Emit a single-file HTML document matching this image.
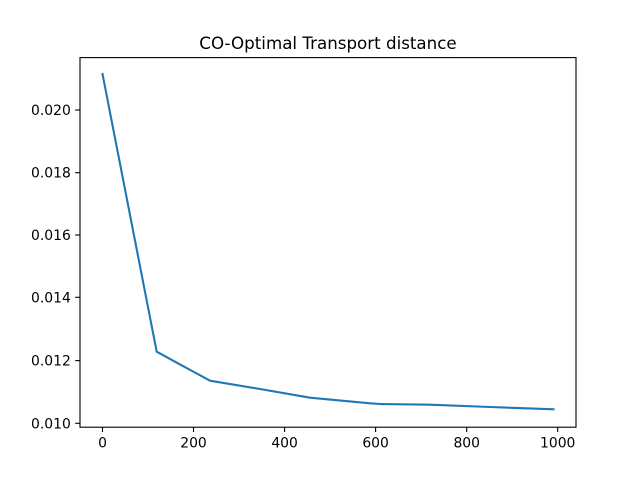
<!DOCTYPE html>
<html><head><meta charset="utf-8"><style>
html,body{margin:0;padding:0;background:#fff;}
svg{display:block;}
text{font-family:"DejaVu Sans","Liberation Sans",sans-serif;fill:#000;}
</style></head><body>
<svg width="640" height="480" viewBox="0 0 640 480" xmlns="http://www.w3.org/2000/svg">
<rect width="640" height="480" fill="#fff"/>
<polyline fill="none" stroke="#1f77b4" stroke-width="2.1" stroke-linejoin="round" stroke-linecap="square"
 points="102.5,74 156.7,351.7 180,364.4 194,372 210,380.7 260,389 310,397.7 370,403.3 380,404 430,404.7 490,407 553.5,409.3"/>
<rect x="80" y="57.6" width="496" height="369.6" fill="none" stroke="#000" stroke-width="1.1"/>
<g stroke="#000" stroke-width="1.1">
<line x1="102.5" y1="427.2" x2="102.5" y2="432"/>
<line x1="193.5" y1="427.2" x2="193.5" y2="432"/>
<line x1="284.6" y1="427.2" x2="284.6" y2="432"/>
<line x1="375.6" y1="427.2" x2="375.6" y2="432"/>
<line x1="466.7" y1="427.2" x2="466.7" y2="432"/>
<line x1="557.7" y1="427.2" x2="557.7" y2="432"/>
<line x1="75.2" y1="423.3" x2="80" y2="423.3"/>
<line x1="75.2" y1="360.6" x2="80" y2="360.6"/>
<line x1="75.2" y1="297.3" x2="80" y2="297.3"/>
<line x1="75.2" y1="235" x2="80" y2="235"/>
<line x1="75.2" y1="172.7" x2="80" y2="172.7"/>
<line x1="75.2" y1="110" x2="80" y2="110"/>
</g>
<g font-size="13.9" text-anchor="middle">
<text x="102.5" y="447.7">0</text>
<text x="193.5" y="447.7">200</text>
<text x="284.6" y="447.7">400</text>
<text x="375.6" y="447.7">600</text>
<text x="466.7" y="447.7">800</text>
<text x="557.7" y="447.7">1000</text>
</g>
<g font-size="13.9" text-anchor="end">
<text x="70.8" y="428.3">0.010</text>
<text x="70.8" y="365.6">0.012</text>
<text x="70.8" y="302.3">0.014</text>
<text x="70.8" y="240">0.016</text>
<text x="70.8" y="177.7">0.018</text>
<text x="70.8" y="115">0.020</text>
</g>
<text x="328" y="49" font-size="16.7" text-anchor="middle">CO-Optimal Transport distance</text>
</svg>
</body></html>
